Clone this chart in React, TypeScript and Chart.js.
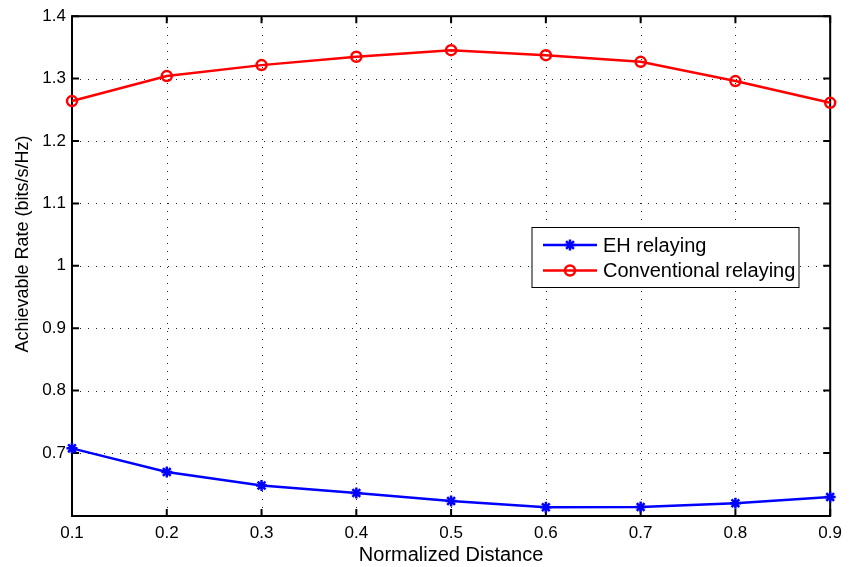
import React, { useEffect, useRef } from "react";
import { Chart, registerables } from "chart.js";

Chart.register(...registerables);

const X_VALUES = [0.1, 0.2, 0.3, 0.4, 0.5, 0.6, 0.7, 0.8, 0.9];
const EH_RATE = [0.7074, 0.6696, 0.648, 0.636, 0.6232, 0.6129, 0.6135, 0.6193, 0.6296];
const CONV_RATE = [1.264, 1.304, 1.3216, 1.335, 1.3456, 1.3376, 1.3269, 1.296, 1.2612];
const X_TICKS = [0.1, 0.2, 0.3, 0.4, 0.5, 0.6, 0.7, 0.8, 0.9];
const Y_TICKS = [0.7, 0.8, 0.9, 1.0, 1.1, 1.2, 1.3, 1.4];
const X_MIN = 0.1;
const X_MAX = 0.9;
const Y_MIN = 0.599;
const Y_MAX = 1.4;
const SERIES_NAMES = ["EH relaying", "Conventional relaying"];
const X_TITLE = "Normalized Distance";
const Y_TITLE = "Achievable Rate (bits/s/Hz)";

const FONT = "'Liberation Sans', Arial, Helvetica, sans-serif";

const fmt = (v: number) => String(Number(v.toFixed(1)));

const frameAndGrid = {
  id: "frameAndGrid",
  beforeDatasetsDraw(chart: any) {
    const { ctx, chartArea: a, scales } = chart;
    const xs = scales.x;
    const ys = scales.y;
    ctx.save();
    // dotted grid
    ctx.strokeStyle = "#222";
    ctx.lineWidth = 1;
    ctx.setLineDash([1, 7]);
    xs.ticks.forEach((t: any) => {
      const px = Math.round(xs.getPixelForValue(t.value)) + 0.5;
      ctx.beginPath();
      ctx.moveTo(px, a.bottom);
      ctx.lineTo(px, a.top);
      ctx.stroke();
    });
    ys.ticks.forEach((t: any) => {
      const py = Math.round(ys.getPixelForValue(t.value)) + 0.5;
      ctx.beginPath();
      ctx.moveTo(a.left, py);
      ctx.lineTo(a.right, py);
      ctx.stroke();
    });
    ctx.setLineDash([]);
    // inward tick marks
    ctx.strokeStyle = "#000";
    ctx.lineWidth = 2;
    const tl = 7;
    xs.ticks.forEach((t: any) => {
      const px = xs.getPixelForValue(t.value);
      ctx.beginPath();
      ctx.moveTo(px, a.bottom);
      ctx.lineTo(px, a.bottom - tl);
      ctx.moveTo(px, a.top);
      ctx.lineTo(px, a.top + tl);
      ctx.stroke();
    });
    ys.ticks.forEach((t: any) => {
      const py = ys.getPixelForValue(t.value);
      ctx.beginPath();
      ctx.moveTo(a.left, py);
      ctx.lineTo(a.left + tl, py);
      ctx.moveTo(a.right, py);
      ctx.lineTo(a.right - tl, py);
      ctx.stroke();
    });
    // box
    ctx.lineWidth = 2;
    ctx.strokeRect(a.left, a.top, a.right - a.left, a.bottom - a.top);
    ctx.restore();
  },
};

const yTitle = {
  id: "yTitle",
  afterDraw(chart: any) {
    const { ctx } = chart;
    ctx.save();
    ctx.translate(23, 244);
    ctx.rotate(-Math.PI / 2);
    ctx.fillStyle = "#000";
    ctx.font = `18px ${FONT}`;
    ctx.textAlign = "center";
    ctx.textBaseline = "middle";
    ctx.fillText(Y_TITLE, 0, 0);
    ctx.restore();
  },
};

function drawMarker(ctx: CanvasRenderingContext2D, style: string, r: number, x: number, y: number) {
  ctx.beginPath();
  if (style === "circle") {
    ctx.arc(x, y, r, 0, Math.PI * 2);
  } else {
    for (let k = 0; k < 4; k++) {
      const ang = (k * Math.PI) / 4;
      ctx.moveTo(x - Math.cos(ang) * r, y - Math.sin(ang) * r);
      ctx.lineTo(x + Math.cos(ang) * r, y + Math.sin(ang) * r);
    }
  }
  ctx.stroke();
}

const boxLegend = {
  id: "boxLegend",
  afterDraw(chart: any) {
    const { ctx } = chart;
    const bx = 532;
    const by = 227.5;
    const bw = 267;
    const bh = 60;
    ctx.save();
    ctx.fillStyle = "#fff";
    ctx.fillRect(bx, by, bw, bh);
    ctx.strokeStyle = "#000";
    ctx.lineWidth = 1;
    ctx.strokeRect(bx, by, bw, bh);
    const rows = [245, 270.5];
    chart.data.datasets.forEach((ds: any, i: number) => {
      const y = rows[i];
      ctx.strokeStyle = ds.borderColor;
      ctx.lineWidth = ds.borderWidth;
      ctx.beginPath();
      ctx.moveTo(543, y);
      ctx.lineTo(597, y);
      ctx.stroke();
      ctx.lineWidth = ds.pointBorderWidth;
      ctx.strokeStyle = ds.pointBorderColor;
      drawMarker(ctx, ds.pointStyle, ds.pointRadius, 570, y);
      ctx.fillStyle = "#000";
      ctx.font = `20px ${FONT}`;
      ctx.textBaseline = "middle";
      ctx.textAlign = "left";
      ctx.fillText(ds.label, 603, y + 1);
    });
    ctx.restore();
  },
};

export default function App() {
  const ref = useRef<HTMLCanvasElement | null>(null);
  useEffect(() => {
    if (!ref.current) return;
    const chart = new Chart(ref.current, {
      type: "line",
      data: {
        datasets: [
          {
            label: SERIES_NAMES[0],
            data: X_VALUES.map((x, i) => ({ x, y: EH_RATE[i] })),
            borderColor: "#0000ff",
            backgroundColor: "#0000ff",
            borderWidth: 2.5,
            pointStyle: "star",
            pointRadius: 5.5,
            pointBorderWidth: 2.5,
            pointBorderColor: "#0000ff",
            pointBackgroundColor: "#0000ff",
            clip: false,
          } as any,
          {
            label: SERIES_NAMES[1],
            data: X_VALUES.map((x, i) => ({ x, y: CONV_RATE[i] })),
            borderColor: "#ff0000",
            backgroundColor: "#ff0000",
            borderWidth: 2.5,
            pointStyle: "circle",
            pointRadius: 5,
            pointBorderWidth: 2.5,
            pointBorderColor: "#ff0000",
            pointBackgroundColor: "rgba(0,0,0,0)",
            clip: false,
          } as any,
        ],
      },
      options: {
        animation: false,
        responsive: true,
        maintainAspectRatio: false,
        layout: { padding: { top: 16, right: 16, left: 0, bottom: 0 } },
        plugins: { legend: { display: false }, tooltip: { enabled: false } },
        scales: {
          x: {
            type: "linear",
            min: X_MIN,
            max: X_MAX,
            afterBuildTicks: (s: any) => {
              s.ticks = X_TICKS.map((v) => ({ value: v }));
            },
            afterFit: (s: any) => {
              s.height = 51;
            },
            grid: { display: false, drawTicks: false },
            border: { display: false },
            ticks: {
              color: "#000",
              font: { family: FONT, size: 17 },
              padding: 7,
              maxRotation: 0,
              autoSkip: false,
              callback: (v: any) => fmt(Number(v)),
            },
            title: {
              display: true,
              text: X_TITLE,
              color: "#000",
              font: { family: FONT, size: 20 },
              padding: { top: 0, bottom: 0 },
            },
          },
          y: {
            type: "linear",
            min: Y_MIN,
            max: Y_MAX,
            afterBuildTicks: (s: any) => {
              s.ticks = Y_TICKS.map((v) => ({ value: v }));
            },
            afterFit: (s: any) => {
              s.width = 72;
            },
            grid: { display: false, drawTicks: false },
            border: { display: false },
            ticks: {
              color: "#000",
              font: { family: FONT, size: 17 },
              padding: 6,
              autoSkip: false,
              callback: (v: any) => fmt(Number(v)),
            },
            title: { display: false },
          },
        },
      } as any,
      plugins: [frameAndGrid, yTitle, boxLegend],
    });
    return () => chart.destroy();
  }, []);
  return (
    <div style={{ position: "fixed", left: 0, top: 0, width: 849, height: 567, background: "#fff" }}>
      <canvas ref={ref} />
    </div>
  );
}
